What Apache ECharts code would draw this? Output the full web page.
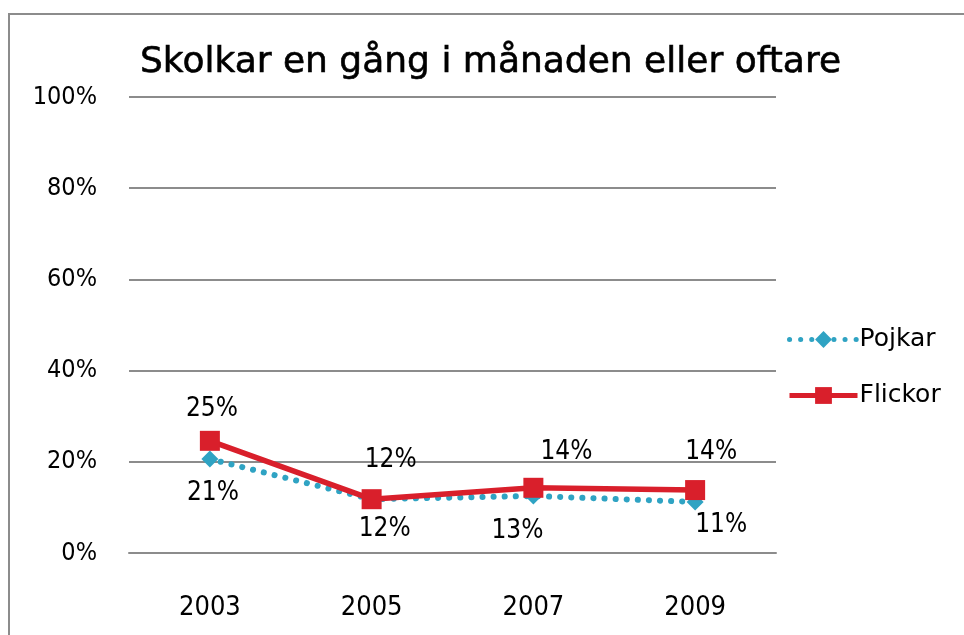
<!DOCTYPE html>
<html>
<head>
<meta charset="utf-8">
<script src="https://cdn.jsdelivr.net/npm/echarts@6/dist/echarts.min.js"></script>
<style>html,body{margin:0;padding:0;background:#fff}#c{width:964px;height:635px}</style>
</head>
<body>
<div id="c"></div>
<script>
const title = 'Skolkar en gång i månaden eller oftare';
const categories = ['2003', '2005', '2007', '2009'];
const pojkar = [0.206, 0.118, 0.125, 0.112];
const flickor = [0.246, 0.118, 0.143, 0.138];
const pojkarLabels = ['21%', '12%', '13%', '11%'];
const flickorLabels = ['25%', '12%', '14%', '14%'];
const yTicks = [0, 0.2, 0.4, 0.6, 0.8, 1.0];

// label placement (layout only)
const pojkarOffsets = [[3, 34], [13, 30], [-16, 35], [26, 23]];
const flickorOffsets = [[2, -32], [19, -39], [33, -36], [16, -38]];

const FONT_C = '"DejaVu Sans Condensed", "DejaVu Sans", sans-serif';
const FONT = '"DejaVu Sans", sans-serif';
const BLUE = '#2fa3c3';
const RED = '#d91f2b';

function build(values, labels, offsets) {
  return values.map((v, i) => ({
    value: v,
    label: { offset: offsets[i], formatter: labels[i] }
  }));
}

const chart = echarts.init(document.getElementById('c'));
chart.setOption({
  animation: false,
  backgroundColor: '#fff',
  title: {
    text: title, left: 135, top: 40,
    textStyle: { fontFamily: FONT, fontSize: 36, fontWeight: 'normal', color: '#000',
      textBorderColor: '#000', textBorderWidth: 0.6 }
  },
  legend: {
    orient: 'vertical', left: 782, top: 322, itemGap: 31,
    itemWidth: 68, itemHeight: 21,
    textStyle: { fontFamily: FONT, fontSize: 25, color: '#000', padding: [0, 0, 0, -3] },
    data: [
      { name: 'Pojkar', lineStyle: { width: 5, type: [0.1, 11], cap: 'round', color: BLUE } },
      { name: 'Flickor', lineStyle: { width: 5, color: RED } }
    ]
  },
  graphic: [{
    type: 'rect', shape: { x: 9, y: 14, width: 1000, height: 700 },
    style: { fill: 'none', stroke: '#8c8c8c', lineWidth: 2 }, silent: true
  }],
  grid: { left: 129, right: 188, top: 97, bottom: 82 },
  xAxis: {
    type: 'category', data: categories, boundaryGap: true,
    axisLine: { show: true, lineStyle: { color: '#8c8c8c', width: 2 } },
    axisTick: { show: false },
    axisLabel: { margin: 41, fontFamily: FONT_C, fontSize: 27, color: '#000' }
  },
  yAxis: {
    type: 'value', min: 0, max: 1, interval: 0.2,
    axisLine: { show: false }, axisTick: { show: false },
    splitLine: { lineStyle: { color: '#8c8c8c', width: 2 } },
    axisLabel: {
      margin: 32, fontFamily: FONT_C, fontSize: 25, color: '#000',
      formatter: v => Math.round(v * 100) + '%',
      customValues: yTicks
    }
  },
  series: [
    {
      name: 'Pojkar', type: 'line', data: build(pojkar, pojkarLabels, pojkarOffsets),
      symbol: 'diamond', symbolSize: 17,
      itemStyle: { color: BLUE },
      lineStyle: { color: BLUE, width: 6, type: [0.1, 11], cap: 'round' },
      label: { show: true, position: 'inside', align: 'center', verticalAlign: 'middle',
        fontFamily: FONT_C, fontSize: 26, color: '#000' },
      z: 2
    },
    {
      name: 'Flickor', type: 'line', data: build(flickor, flickorLabels, flickorOffsets),
      symbol: 'rect', symbolSize: 20,
      itemStyle: { color: RED },
      lineStyle: { color: RED, width: 5.5 },
      label: { show: true, position: 'inside', align: 'center', verticalAlign: 'middle',
        fontFamily: FONT_C, fontSize: 26, color: '#000' },
      z: 3
    }
  ]
});
</script>
</body>
</html>
